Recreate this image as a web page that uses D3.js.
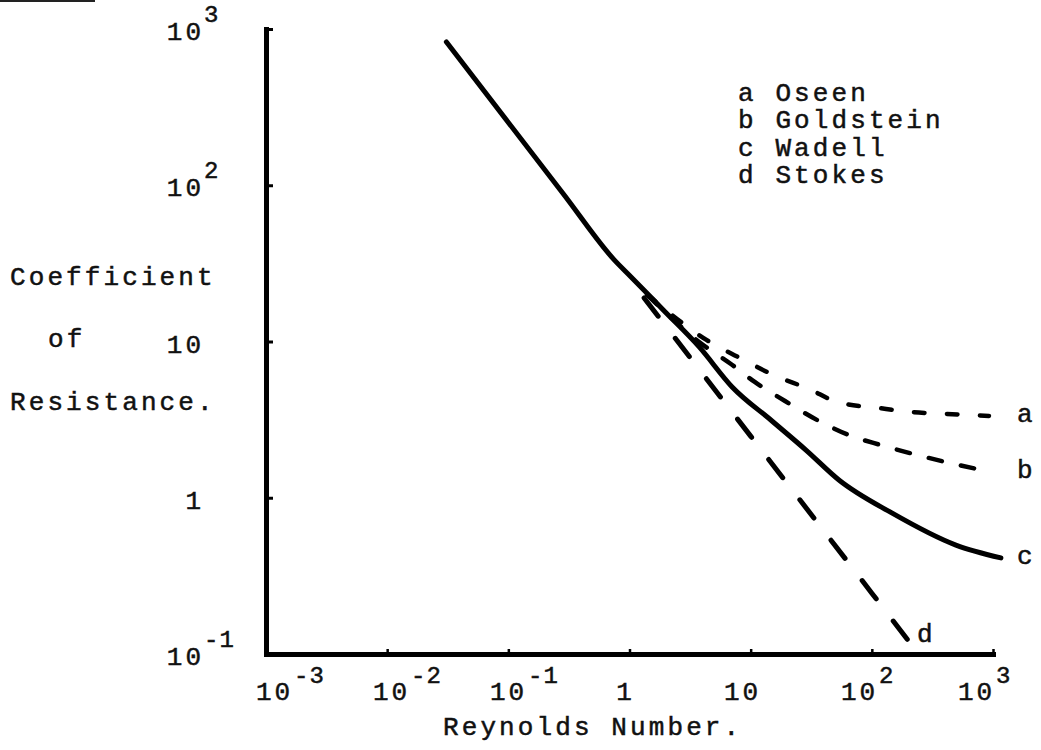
<!DOCTYPE html>
<html>
<head>
<meta charset="utf-8">
<script src="https://cdn.jsdelivr.net/npm/d3@7"></script>
<style>
  body { margin: 0; background: #fff; }
  text { font-family: "Liberation Mono", "DejaVu Sans Mono", monospace; fill: #111; stroke: #111; stroke-width: 0.5; }
</style>
</head>
<body>
<div id="chart"></div>
<script>
// tick labels (typed as base + exponent)
const xTicks = [1e-3, 1e-2, 1e-1, 1, 10, 100, 1000];
const xTickBase = ["10", "10", "10", "1", "10", "10", "10"];
const xTickExp = ["-3", "-2", "-1", "", "", "2", "3"];

const yTicks = [1000, 100, 10, 1, 0.1];
const yTickBase = ["10", "10", "10", "1", "10"];
const yTickExp = ["3", "2", "", "", "-1"];

// curves (Reynolds number, coefficient)
const reOseen = [1.40, 4.35, 8.79, 16.1, 30.3, 51.6, 115, 210, 417, 926];
const cOseen = [19.9, 10.2, 7.61, 6.01, 4.97, 4.10, 3.75, 3.54, 3.44, 3.34];

const reGoldstein = [1.40, 3.76, 6.87, 10.8, 19.2, 35.2, 64.7, 117, 218, 409, 979];
const cGoldstein = [19.9, 9.93, 7.18, 5.51, 4.16, 3.15, 2.52, 2.18, 1.91, 1.69, 1.46];

const reWadell = [0.0308, 0.287, 0.748, 1.03, 1.90, 3.76, 7.03, 15.0, 28.6, 53.5, 146, 494, 1162];
const cWadell = [826, 87.3, 33.3, 25.9, 15.9, 9.23, 5.12, 3.10, 2.02, 1.30, 0.80, 0.498, 0.412];

const reStokes = [1.32, 10, 100, 223];
const cStokes = [19.0, 2.48, 0.245, 0.109];

const keys = ["a", "b", "c", "d"];
const names = ["Oseen", "Goldstein", "Wadell", "Stokes"];

const svgWidth = 1041, svgHeight = 750;

var svg = d3.select("#chart").append("svg")
    .attr("width", svgWidth)
    .attr("height", svgHeight);

let xScale = d3.scaleLog().domain([1e-3, 1e3]).range([266, 993]),
    yScale = d3.scaleLog().domain([0.1, 1000]).range([654, 29]),
    // the typed labels sit on a slightly tighter pitch than the ticks
    xLabelScale = d3.scaleLog().domain([1e-3, 1e3]).range([273, 975]);

// scrap of the line above, cut off by the scan
svg.append("line")
    .attr("x1", 0).attr("x2", 95).attr("y1", 1).attr("y2", 1)
    .attr("stroke", "#222").attr("stroke-width", 2);

// axes
let xAxis = svg.append("g")
    .attr("transform", `translate(0, ${yScale(0.1)})`)
    .call(d3.axisBottom(xScale).tickValues(xTicks.slice(1)).tickSizeInner(-5).tickSizeOuter(0).tickFormat(""));
xAxis.select(".domain").attr("stroke-width", 5).attr("stroke-linecap", "square");
xAxis.selectAll(".tick line").attr("stroke-width", 2.5);

let yAxis = svg.append("g")
    .attr("transform", `translate(${xScale(1e-3)}, 0)`)
    .call(d3.axisLeft(yScale).tickValues(yTicks.slice(0, 4)).tickSizeInner(-7).tickSizeOuter(0).tickFormat(""));
yAxis.select(".domain").attr("stroke-width", 5).attr("stroke-linecap", "square");
yAxis.selectAll(".tick line").attr("stroke-width", 3);

// x tick labels
const fs = 26, ls = 3.1;
xTicks.forEach((v, i) => {
    let cx = xLabelScale(v);
    svg.append("text")
        .attr("x", cx + 1.5).attr("y", 700)
        .attr("text-anchor", "middle")
        .attr("font-size", fs).attr("letter-spacing", 3)
        .text(xTickBase[i]);
    if (xTickExp[i]) {
        svg.append("text")
            .attr("x", cx + 21).attr("y", 683)
            .attr("font-size", 24).attr("letter-spacing", 1)
            .text(xTickExp[i]);
    }
});

// y tick labels
yTicks.forEach((v, i) => {
    let y = yScale(v) + 11;
    svg.append("text")
        .attr("x", 204).attr("y", y)
        .attr("text-anchor", "end")
        .attr("font-size", fs).attr("letter-spacing", 3)
        .text(yTickBase[i]);
    if (yTickExp[i]) {
        svg.append("text")
            .attr("x", 204).attr("y", y - 18)
            .attr("font-size", 24).attr("letter-spacing", 1)
            .text(yTickExp[i]);
    }
});

// axis titles
const yTitle = [["Coefficient", 10, 285], ["of", 48, 347], ["Resistance.", 10, 410]];
yTitle.forEach(t => {
    svg.append("text")
        .attr("x", t[1]).attr("y", t[2])
        .attr("font-size", fs).attr("letter-spacing", ls)
        .text(t[0]);
});
svg.append("text")
    .attr("x", 443).attr("y", 735)
    .attr("font-size", fs).attr("letter-spacing", ls)
    .text("Reynolds Number.");

// curves
const series = [
    { key: "a", re: reOseen, c: cOseen },
    { key: "b", re: reGoldstein, c: cGoldstein },
    { key: "c", re: reWadell, c: cWadell },
    { key: "d", re: reStokes, c: cStokes }
];
const style = {
    a: { w: 4.5, dash: "10.5,22.5" },
    b: { w: 4.5, dash: "13.5,19.5" },
    c: { w: 5, dash: null },
    d: { w: 5, dash: "23,28" }
};

let line = d3.line()
    .x((d) => xScale(d[0]))
    .y((d) => yScale(d[1]))
    .curve(d3.curveMonotoneX);

svg.selectAll("path.curve")
    .data(series)
    .join("path")
    .attr("class", "curve")
    .attr("fill", "none")
    .attr("stroke", "#000")
    .attr("stroke-linecap", "round")
    .attr("stroke-linejoin", "round")
    .attr("stroke-width", (d) => style[d.key].w)
    .attr("stroke-dasharray", (d) => style[d.key].dash)
    .attr("d", (d) => line(d.re.map((r, i) => [r, d.c[i]])));

// curve end letters
series.forEach(s => {
    let n = s.re.length - 1;
    let x = s.key == "d" ? xScale(s.re[n]) + 3 : xScale(1000) + 24,
        y = s.key == "d" ? yScale(s.c[n]) - 6 : yScale(s.c[n]) + 6;
    svg.append("text")
        .attr("x", x).attr("y", y)
        .attr("font-size", fs)
        .text(s.key);
});

// legend
keys.forEach((k, i) => {
    svg.append("text")
        .attr("x", 738).attr("y", 101 + i * 27.3)
        .attr("font-size", fs).attr("letter-spacing", ls)
        .text(k + " " + names[i]);
});
</script>
</body>
</html>
